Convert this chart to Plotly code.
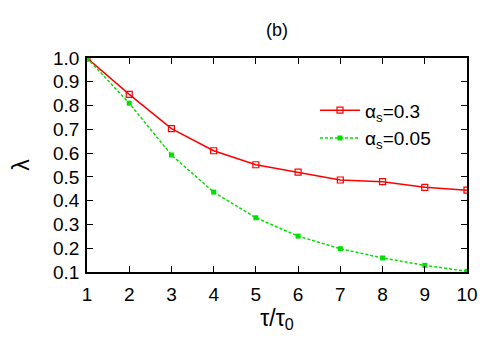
import plotly.graph_objects as go

tau = [1, 2, 3, 4, 5, 6, 7, 8, 9, 10]
lam_a03 = [1.0, 0.847, 0.703, 0.61, 0.551, 0.52, 0.487, 0.48, 0.456, 0.444]
lam_a005 = [1.0, 0.81, 0.592, 0.436, 0.328, 0.251, 0.198, 0.159, 0.128, 0.103]

FONT = "Liberation Sans, Arial, sans-serif"

fig = go.Figure()

fig.add_trace(go.Scatter(
    x=tau, y=lam_a03,
    mode="lines+markers",
    name="α<sub>s</sub>=0.3",
    line=dict(color="#ff0000", width=1.5),
    marker=dict(symbol="square-open", size=6, color="#ff0000", line=dict(width=1.2))
))

fig.add_trace(go.Scatter(
    x=tau, y=lam_a005,
    mode="lines+markers",
    name="α<sub>s</sub>=0.05",
    line=dict(color="#00e000", width=1.5, dash="3px,2px"),
    marker=dict(symbol="square", size=5, color="#00e000")
))

axis_style = dict(
    showline=True, linecolor="black", linewidth=1.5,
    mirror="ticks", ticks="inside", ticklen=6, tickcolor="black", tickwidth=1.2,
    showgrid=False, zeroline=False, automargin=False,
    tickfont=dict(family=FONT, size=19, color="black"),
)

# page has an 8px body margin, so the figure is a bit smaller than the window
fig.update_layout(
    width=492, height=342,
    margin=dict(l=79, r=33, t=50, b=78),
    plot_bgcolor="white", paper_bgcolor="white",
    font=dict(family=FONT, size=19, color="black"),
    title=dict(text="(b)", x=0.5, xref="paper", xanchor="center", y=0.936, yanchor="middle",
               font=dict(family=FONT, size=18, color="black")),
    xaxis=dict(range=[1, 10], dtick=1, ticklabelstandoff=4,
               title=dict(text="τ/τ<sub>0</sub>", standoff=6), **axis_style),
    yaxis=dict(range=[0.1, 1.0], dtick=0.1, tickformat=".1f", ticklabelstandoff=2,
               title=dict(text="λ", standoff=22), **axis_style),
    showlegend=True,
    legend=dict(x=0.6, y=0.69, xanchor="left", yanchor="middle",
                bgcolor="rgba(0,0,0,0)", font=dict(family=FONT, size=19),
                itemwidth=40, tracegroupgap=0),
)

fig.write_html("out.html")
